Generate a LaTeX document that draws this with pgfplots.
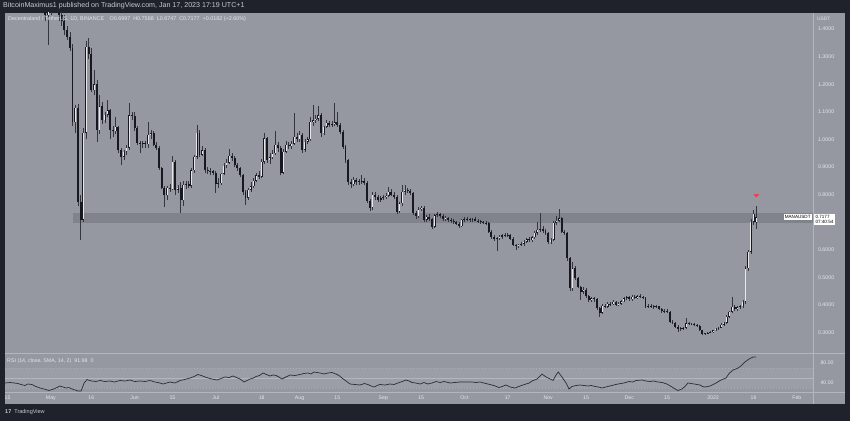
\documentclass[border=0pt]{standalone}
\usepackage{fontspec}
\setmainfont{Liberation Sans}
\usepackage{pgfplots}
\usepackage{pgfplotstable}
\pgfplotsset{compat=1.18}
\definecolor{darkbg}{HTML}{1F222A}
\definecolor{chartbg}{HTML}{9598A1}
\definecolor{bandcol}{HTML}{80838C}
\definecolor{rsiband}{HTML}{9B9EA7}
\definecolor{txt}{HTML}{E3E5EA}
\definecolor{headtxt}{HTML}{C9CBD1}
\definecolor{sepcol}{HTML}{B3B6BD}
\definecolor{candledark}{HTML}{17191E}
\definecolor{candlelight}{HTML}{E6E6E8}
\definecolor{wickcol}{HTML}{33363E}
\definecolor{tvred}{HTML}{F23645}
\definecolor{rsiline}{HTML}{2A2D35}

\pgfplotstableread{
d o h l c
12 1.56 1.60 1.49 1.50
13 1.50 1.53 1.46 1.48
14 1.48 1.50 1.43 1.45
15 1.45 1.50 1.342 1.47
16 1.47 1.55 1.45 1.52
17 1.52 1.56 1.48 1.50
18 1.50 1.53 1.46 1.47
19 1.47 1.49 1.43 1.45
20 1.45 1.47 1.41 1.43
21 1.43 1.45 1.38 1.397
22 1.397 1.41 1.36 1.372
23 1.372 1.39 1.32 1.331
24 1.331 1.345 1.05 1.063
25 1.063 1.125 1.023 1.114
26 1.114 1.13 0.76 0.773
27 0.773 0.80 0.635 0.708
28 0.708 1.04 0.70 1.025
29 1.025 1.355 1.00 1.336
30 1.336 1.367 1.29 1.310
31 1.310 1.33 1.17 1.179
32 1.179 1.25 1.16 1.200
33 1.200 1.215 0.99 1.034
34 1.034 1.16 1.02 1.120
35 1.120 1.135 1.055 1.070
36 1.070 1.10 1.06 1.090
37 1.090 1.143 1.08 1.105
38 1.105 1.11 1.00 1.034
39 1.034 1.05 1.01 1.030
40 1.030 1.082 1.02 1.045
41 1.045 1.05 0.95 0.962
42 0.962 0.97 0.907 0.937
43 0.937 0.96 0.925 0.955
44 0.955 0.98 0.945 0.970
45 0.970 1.132 0.96 1.088
46 1.088 1.10 1.07 1.085
47 1.085 1.10 1.03 1.040
48 1.040 1.05 0.98 0.987
49 0.987 0.995 0.95 0.983
50 0.983 0.995 0.97 0.986
51 0.986 0.995 0.97 0.983
52 0.983 1.064 0.97 1.016
53 1.016 1.035 1.00 1.022
54 1.022 1.03 0.975 0.980
55 0.980 0.99 0.96 0.969
56 0.969 0.975 0.89 0.896
57 0.896 0.90 0.82 0.824
58 0.824 0.83 0.756 0.797
59 0.797 0.83 0.78 0.825
60 0.825 0.84 0.81 0.820
61 0.820 0.94 0.815 0.919
62 0.919 0.925 0.80 0.817
63 0.817 0.835 0.805 0.825
64 0.825 0.845 0.733 0.780
65 0.780 0.85 0.76 0.836
66 0.836 0.85 0.82 0.838
67 0.838 0.85 0.825 0.832
68 0.832 0.895 0.825 0.889
69 0.889 0.945 0.88 0.937
70 0.937 1.052 0.93 1.024
71 1.024 1.035 0.935 0.945
72 0.945 0.975 0.94 0.960
73 0.960 0.97 0.88 0.889
74 0.889 0.90 0.875 0.886
75 0.886 0.895 0.87 0.885
76 0.885 0.89 0.87 0.880
77 0.880 0.885 0.806 0.838
78 0.838 0.86 0.825 0.842
79 0.842 0.88 0.835 0.875
80 0.875 0.915 0.87 0.904
81 0.904 0.93 0.895 0.916
82 0.916 0.965 0.91 0.940
83 0.940 0.95 0.92 0.932
84 0.932 0.94 0.90 0.907
85 0.907 0.915 0.885 0.895
86 0.895 0.90 0.865 0.872
87 0.872 0.875 0.80 0.810
88 0.810 0.815 0.762 0.788
89 0.788 0.825 0.78 0.817
90 0.817 0.845 0.81 0.830
91 0.830 0.86 0.825 0.850
92 0.850 0.88 0.845 0.871
93 0.871 0.885 0.855 0.865
94 0.865 0.93 0.86 0.919
95 0.919 1.024 0.91 1.004
96 1.004 1.01 0.915 0.925
97 0.925 0.95 0.91 0.935
98 0.935 0.96 0.93 0.950
99 0.950 1.03 0.945 0.980
100 0.980 0.99 0.955 0.968
101 0.968 0.975 0.87 0.879
102 0.879 0.965 0.875 0.956
103 0.956 0.995 0.95 0.980
104 0.980 0.99 0.965 0.975
105 0.975 0.995 0.965 0.985
106 0.985 1.097 0.98 1.010
107 1.010 1.025 0.99 1.000
108 1.000 1.03 0.99 1.016
109 1.016 1.023 0.95 0.962
110 0.962 1.00 0.955 0.992
111 0.992 1.01 0.985 1.000
112 1.000 1.08 0.995 1.064
113 1.064 1.125 1.05 1.070
114 1.070 1.09 1.06 1.075
115 1.075 1.12 1.065 1.088
116 1.088 1.095 1.01 1.022
117 1.022 1.05 1.015 1.045
118 1.045 1.07 1.04 1.060
119 1.060 1.068 1.045 1.052
120 1.052 1.065 1.045 1.056
121 1.056 1.132 1.05 1.062
122 1.062 1.10 1.045 1.052
123 1.052 1.06 1.02 1.028
124 1.028 1.035 0.965 0.974
125 0.974 0.98 0.915 0.925
126 0.925 0.93 0.835 0.847
127 0.847 0.855 0.825 0.838
128 0.838 0.865 0.83 0.853
129 0.853 0.86 0.835 0.845
130 0.845 0.855 0.835 0.848
131 0.848 0.87 0.84 0.850
132 0.850 0.86 0.835 0.842
133 0.842 0.85 0.77 0.778
134 0.778 0.785 0.74 0.752
135 0.752 0.81 0.745 0.800
136 0.800 0.81 0.78 0.790
137 0.790 0.80 0.775 0.782
138 0.782 0.795 0.775 0.786
139 0.786 0.80 0.78 0.790
140 0.790 0.805 0.785 0.796
141 0.796 0.829 0.79 0.810
142 0.810 0.82 0.795 0.800
143 0.800 0.81 0.785 0.792
144 0.792 0.80 0.73 0.738
145 0.738 0.775 0.732 0.768
146 0.768 0.835 0.76 0.810
147 0.810 0.835 0.80 0.818
148 0.818 0.825 0.805 0.812
149 0.812 0.82 0.80 0.805
150 0.805 0.81 0.725 0.732
151 0.732 0.74 0.712 0.722
152 0.722 0.755 0.715 0.747
153 0.747 0.76 0.74 0.752
154 0.752 0.76 0.70 0.708
155 0.708 0.725 0.70 0.720
156 0.720 0.728 0.705 0.712
157 0.712 0.715 0.675 0.684
158 0.684 0.73 0.68 0.726
159 0.726 0.738 0.718 0.730
160 0.730 0.735 0.715 0.722
161 0.722 0.728 0.705 0.711
162 0.711 0.722 0.705 0.716
163 0.716 0.72 0.70 0.708
164 0.708 0.715 0.698 0.705
165 0.705 0.712 0.695 0.700
166 0.700 0.706 0.69 0.695
167 0.695 0.70 0.68 0.686
168 0.686 0.712 0.682 0.708
169 0.708 0.718 0.70 0.712
170 0.712 0.72 0.705 0.710
171 0.710 0.716 0.702 0.708
172 0.708 0.714 0.70 0.712
173 0.712 0.718 0.704 0.706
174 0.706 0.712 0.698 0.703
175 0.703 0.708 0.695 0.700
176 0.700 0.706 0.692 0.698
177 0.698 0.704 0.69 0.696
178 0.696 0.70 0.66 0.666
179 0.666 0.672 0.64 0.645
180 0.645 0.652 0.632 0.638
181 0.638 0.648 0.595 0.642
182 0.642 0.652 0.635 0.648
183 0.648 0.658 0.64 0.652
184 0.652 0.66 0.645 0.655
185 0.655 0.662 0.645 0.652
186 0.652 0.658 0.635 0.640
187 0.640 0.645 0.612 0.617
188 0.617 0.622 0.60 0.612
189 0.612 0.622 0.606 0.618
190 0.618 0.628 0.612 0.622
191 0.622 0.635 0.615 0.630
192 0.630 0.642 0.625 0.638
193 0.638 0.645 0.628 0.634
194 0.634 0.65 0.628 0.645
195 0.645 0.668 0.64 0.662
196 0.662 0.702 0.655 0.672
197 0.672 0.733 0.665 0.676
198 0.676 0.685 0.66 0.668
199 0.668 0.675 0.655 0.660
200 0.660 0.665 0.62 0.628
201 0.628 0.642 0.62 0.637
202 0.637 0.705 0.632 0.698
203 0.698 0.722 0.69 0.705
204 0.705 0.747 0.70 0.714
205 0.714 0.72 0.66 0.666
206 0.666 0.672 0.655 0.660
207 0.660 0.665 0.56 0.569
208 0.569 0.575 0.45 0.460
209 0.460 0.555 0.45 0.533
210 0.533 0.54 0.49 0.497
211 0.497 0.50 0.46 0.466
212 0.466 0.47 0.418 0.448
213 0.448 0.465 0.44 0.456
214 0.456 0.46 0.425 0.432
215 0.432 0.438 0.41 0.418
216 0.418 0.43 0.412 0.424
217 0.424 0.428 0.412 0.420
218 0.420 0.424 0.382 0.388
219 0.388 0.392 0.358 0.372
220 0.372 0.402 0.368 0.398
221 0.398 0.405 0.388 0.394
222 0.394 0.41 0.39 0.405
223 0.405 0.41 0.396 0.403
224 0.403 0.418 0.40 0.412
225 0.412 0.416 0.396 0.400
226 0.400 0.41 0.395 0.405
227 0.405 0.418 0.40 0.414
228 0.414 0.428 0.41 0.424
229 0.424 0.432 0.418 0.428
230 0.428 0.432 0.415 0.420
231 0.420 0.435 0.416 0.430
232 0.430 0.436 0.42 0.427
233 0.427 0.438 0.422 0.432
234 0.432 0.44 0.425 0.430
235 0.430 0.434 0.42 0.426
236 0.426 0.43 0.39 0.394
237 0.394 0.402 0.388 0.398
238 0.398 0.404 0.39 0.396
239 0.396 0.40 0.386 0.392
240 0.392 0.40 0.388 0.395
241 0.395 0.398 0.382 0.386
242 0.386 0.39 0.372 0.378
243 0.378 0.386 0.372 0.380
244 0.380 0.384 0.37 0.376
245 0.376 0.38 0.335 0.340
246 0.340 0.345 0.33 0.336
247 0.336 0.34 0.318 0.322
248 0.322 0.326 0.303 0.312
249 0.312 0.32 0.306 0.316
250 0.316 0.322 0.31 0.318
251 0.318 0.353 0.314 0.334
252 0.334 0.34 0.328 0.332
253 0.332 0.336 0.326 0.330
254 0.330 0.334 0.324 0.328
255 0.328 0.332 0.32 0.325
256 0.325 0.328 0.304 0.308
257 0.308 0.311 0.29 0.295
258 0.295 0.30 0.29 0.298
259 0.298 0.303 0.294 0.300
260 0.300 0.306 0.297 0.303
261 0.303 0.311 0.30 0.308
262 0.308 0.317 0.305 0.314
263 0.314 0.322 0.31 0.318
264 0.318 0.335 0.315 0.328
265 0.328 0.34 0.324 0.336
266 0.336 0.362 0.332 0.358
267 0.358 0.38 0.352 0.376
268 0.376 0.43 0.37 0.394
269 0.394 0.40 0.38 0.386
270 0.386 0.396 0.38 0.392
271 0.392 0.40 0.386 0.396
272 0.396 0.418 0.39 0.412
273 0.412 0.54 0.405 0.533
274 0.533 0.60 0.525 0.593
275 0.593 0.71 0.585 0.702
276 0.702 0.745 0.69 0.731
277 0.6997 0.7588 0.6747 0.7177
}\ohlc

\pgfplotstableread{
d r
-1 40
0.9 41
2.5 40
3.8 39
5 37
6.4 35
7.5 38
9 37
10.5 33
12 30
13.5 28
15.3 25
16.5 27
17.5 29
19.4 34
20.5 32
21.6 30
22.7 31
23.8 28
25 26
26 24
27.2 24
28.3 40
29.4 47
30.3 45
31.2 44
32.7 43
34.2 45
36 43
37.9 44
39.5 42
41.6 45
43.5 44
45.3 46
47 43
49 44
50.8 43
52.7 45
54.5 42
56.4 40
57.5 38
58.8 40
60.1 42
61.9 40
63.8 45
65.5 47
67.5 50
69 53
70.4 57
71.7 55
73 52
74.3 50
75.6 48
77.5 46
79 49
80.4 52
82 51
83.4 54
84.7 51
86 48
87.5 42
88.6 45
89.7 48
91 50
91.9 53
93.2 55
94.5 60
95.8 57
97.1 54
98.2 56
99.3 55
100.4 52
101.5 48
103 52
104.5 56
106.3 55
108.2 57
109.6 59
111.1 60
112.2 58
113.4 62
114.5 61
115.6 60
117 58
118.5 60
120 61
121.5 58
122.6 55
123.7 50
125.2 44
126.7 38
128.5 37
130.4 36
132 39
133.3 37
134.5 34
135.6 32
136.7 35
137.8 37
139.6 36
141.5 38
143 37
144.4 40
146 43
147.4 46
148.5 44
149.6 41
151 40
152.6 38
154 41
155.5 38
157 40
158.5 43
160 41
161.5 43
163.7 40
165.5 41
167.4 42
169.6 42
171.8 42
173.3 41
174.8 42
176.2 40
177.7 38
179.9 35
181.8 31
183 33
184.4 36
185.9 32
187.7 30
189.6 34
190.7 36
191.8 38
193 40
194 44
195.9 48
196.8 53
197.7 58
199.2 52
200.7 48
201.8 45
202.9 56
203.7 62
205.1 52
206.6 40
207.7 28
208.8 33
210.3 35
211.8 36
213.2 35
214.7 34
216 35
217.3 33
218.6 32
219.9 30
221.3 32
222.8 34
224.3 36
225.8 38
228 40
229.9 43
231.2 42
232.5 45
234.7 46
236.2 44
237.6 43
239 44
240.6 42
242.2 41
243.9 38
245.8 32
247 28
248 25
249.5 28
250.6 33
251.7 40
252.8 39
254 38
256.2 36
257.1 33
258 32
259.9 34
261 37
262.1 40
263.9 46
265.8 50
266.9 59
268.4 66
269.9 69
271.3 74
272.8 82
274.3 88
275.8 92
276.9 92
}\rsi

\begin{document}
\begin{tikzpicture}
\fill[darkbg] (0pt,0pt) rectangle (850pt,421pt);
\fill[chartbg] (5pt,17pt) rectangle (845pt,408pt);

\begin{axis}[
  at={(5pt,69pt)}, anchor=south west, scale only axis,
  width=808pt, height=339pt,
  xmin=-0.96, xmax=297.97, ymin=0.2297, ymax=1.458,
  axis line style={draw=none}, major tick length=0pt,
  xtick=\empty,
  ytick={0.3,0.4,0.5,0.6,0.8,0.9,1.0,1.1,1.2,1.3,1.4},
  yticklabel pos=right,
  /pgf/number format/assume math mode=true,
  yticklabel={\pgfmathprintnumber[fixed,fixed zerofill,precision=4]{\tick}},
  yticklabel style={font=\fontsize{5.3}{6}\selectfont, text=txt, anchor=west, xshift=1.5pt},
  clip=true,
]
\addplot[draw=none, fill=bandcol, forget plot] coordinates {(24.2,0.696) (299,0.696) (299,0.732) (24.2,0.732)};
% wicks
\addplot[wickcol, line width=0.5pt, mark=none, forget plot,
  quiver={u=0, v=\thisrow{h}-\thisrow{l}}]
  table[x=d, y=l] {\ohlc};
% bodies (outline / dark fill)
\addplot[candledark, line width=1.9pt, mark=none, forget plot,
  quiver={u=0, v=\thisrow{c}-\thisrow{o}}]
  table[x=d, y=o] {\ohlc};
% light interior of rising candles
\addplot[candlelight, line width=0.95pt, mark=none, forget plot,
  restrict expr to domain={\thisrow{c}-\thisrow{o}}{0.005:10},
  quiver={u=0, v=\thisrow{c}-\thisrow{o}-0.0036}]
  table[x=d, y expr=\thisrow{o}+0.0018] {\ohlc};
\addplot[only marks, mark=triangle*, mark size=2.6pt,
  mark options={rotate=180, yscale=0.6, fill=tvred, draw=tvred}] coordinates {(277,0.797)};
\end{axis}

\begin{axis}[
  at={(5pt,28.7pt)}, anchor=south west, scale only axis,
  width=808pt, height=39pt,
  xmin=-0.96, xmax=297.97, ymin=21.4, ymax=99.4,
  axis line style={draw=none}, major tick length=0pt,
  xtick={0,16,31,47,61,77,94,108,122,139,153,169,185,200,214,230,244,261,276,292},
  xticklabels={15,May,16,Jun,15,Jul,18,Aug,15,Sep,15,Oct,17,Nov,15,Dec,15,2023,16,Feb},
  xticklabel style={font=\fontsize{5.2}{6}\selectfont, text=txt, anchor=center, yshift=-5.7pt},
  ytick={40,80},
  yticklabel pos=right,
  /pgf/number format/assume math mode=true,
  yticklabel={\pgfmathprintnumber[fixed,fixed zerofill,precision=2]{\tick}},
  yticklabel style={font=\fontsize{5.2}{6}\selectfont, text=txt, anchor=west, xshift=4pt},
  clip=true,
]
\addplot[draw=none, fill=rsiband, forget plot] coordinates {(-1,30) (299,30) (299,70) (-1,70)};
\addplot[sepcol!70!chartbg, dash pattern=on 1.5pt off 1.5pt, line width=0.5pt, forget plot] coordinates {(-1,70) (299,70)};
\addplot[sepcol!70!chartbg, dash pattern=on 1.5pt off 1.5pt, line width=0.5pt, forget plot] coordinates {(-1,30) (299,30)};
\addplot[sepcol, line width=0.6pt, forget plot] coordinates {(-1,50) (299,50)};
\addplot[rsiline, line width=0.7pt, mark=none] table[x=d, y=r] {\rsi};
\end{axis}

% separators
\draw[sepcol, line width=0.8pt] (813pt,17pt) -- (813pt,408pt);
\draw[sepcol, line width=0.8pt] (5pt,67.7pt) -- (845pt,67.7pt);
\draw[sepcol, line width=0.8pt] (5pt,28.7pt) -- (845pt,28.7pt);

% texts
\node[anchor=west, text=headtxt, font=\fontsize{7.1}{8}\selectfont, inner sep=0pt] at (3pt,415pt) {BitcoinMaximus1 published on TradingView.com, Jan 17, 2023 17:19 UTC+1};
\node[anchor=west, text=txt, font=\fontsize{5.4}{6}\selectfont, inner sep=0pt] at (8pt,402pt) {Decentraland / TetherUS, 1D, BINANCE\quad O0.6997\ \ H0.7588\ \ L0.6747\ \ C0.7177\ \ +0.0182 (+2.60\%)};
\node[anchor=west, text=txt, font=\fontsize{4.8}{5}\selectfont, inner sep=0pt] at (817pt,402pt) {USDT};
\node[anchor=west, text=txt, font=\fontsize{5.3}{6}\selectfont, inner sep=0pt] at (7pt,60pt) {RSI (14, close, SMA, 14, 2)\ \ 91.98\ \ 0};
\node[anchor=east, fill=white, text=black, font=\fontsize{4.6}{5}\selectfont, inner sep=1.2pt] at (812pt,203.7pt) {MANAUSDT};
\node[anchor=west, fill=white, text=black, font=\fontsize{4.6}{5.5}\selectfont, inner sep=1.3pt, align=left] at (814pt,201.5pt) {0.7177\\07:40:54};
\node[anchor=west, text=headtxt, font=\fontsize{5.5}{6}\selectfont\bfseries, inner sep=0pt] at (5pt,8.5pt) {17\ \ \mdseries TradingView};
\end{tikzpicture}
\end{document}
